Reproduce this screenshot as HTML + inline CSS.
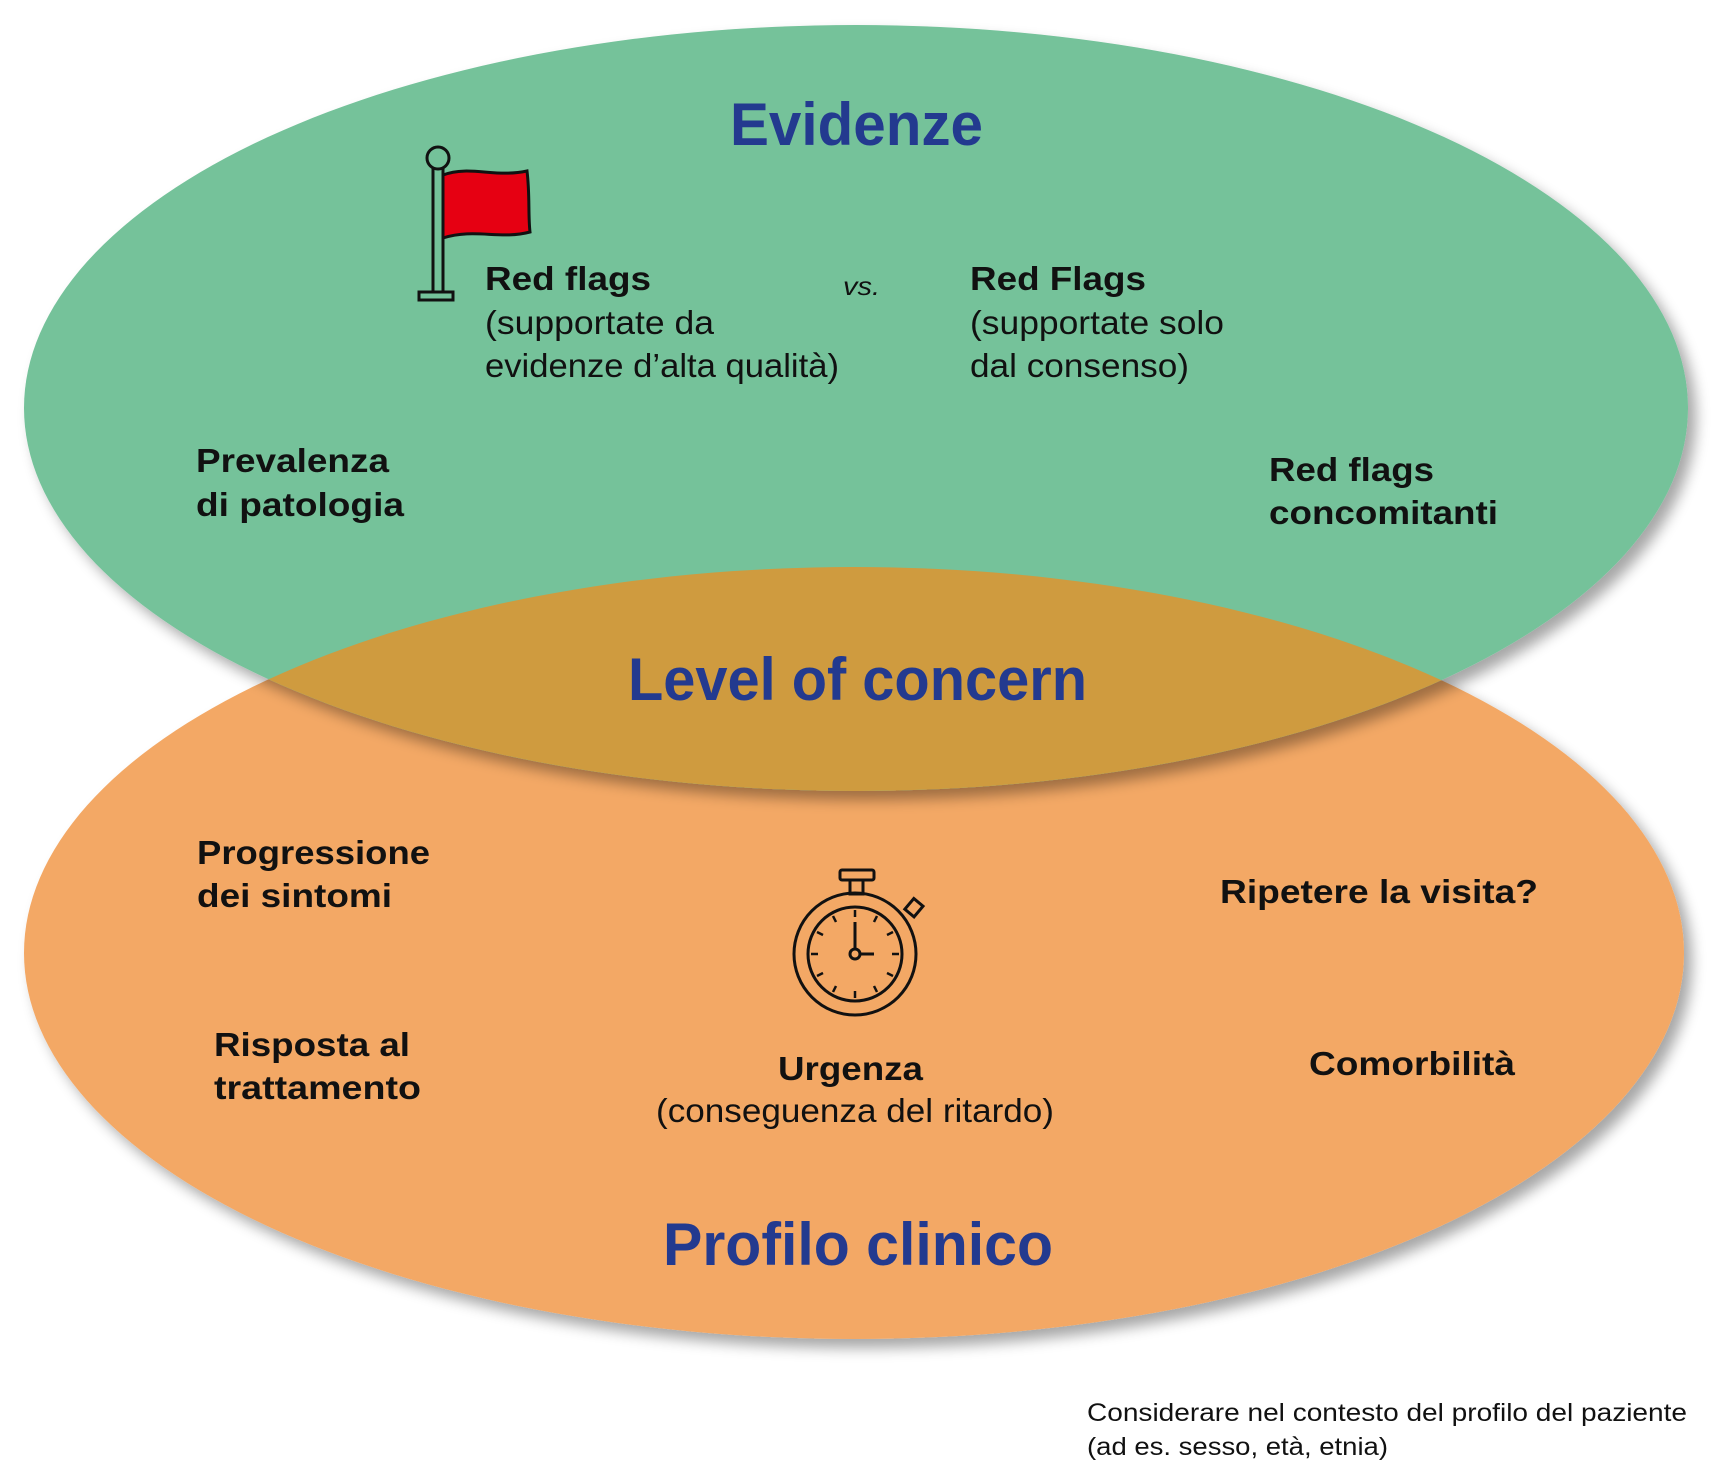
<!DOCTYPE html>
<html><head><meta charset="utf-8"><style>html,body{margin:0;padding:0;background:#fff}svg{display:block}</style></head>
<body>
<svg width="1735" height="1465" viewBox="0 0 1735 1465" xmlns="http://www.w3.org/2000/svg" font-family="'Liberation Sans', sans-serif">
<defs>
<filter id="sh" x="-10%" y="-10%" width="120%" height="130%">
<feGaussianBlur in="SourceAlpha" stdDeviation="7"/>
<feOffset dx="8" dy="9" result="o"/>
<feComponentTransfer><feFuncA type="linear" slope="0.35"/></feComponentTransfer>
<feMerge><feMergeNode/><feMergeNode in="SourceGraphic"/></feMerge>
</filter>
<clipPath id="cg"><ellipse cx="856" cy="408" rx="832" ry="383"/></clipPath>
</defs>
<ellipse cx="854" cy="953" rx="830" ry="386" fill="#f3a865" filter="url(#sh)"/>
<ellipse cx="856" cy="408" rx="832" ry="383" fill="#74c29a" filter="url(#sh)"/>
<ellipse cx="854" cy="953" rx="830" ry="386" fill="#cf9b3f" clip-path="url(#cg)"/>

<g fill="#233a8f" font-weight="bold">
<text x="730" y="145" font-size="60" textLength="253" lengthAdjust="spacingAndGlyphs">Evidenze</text>
<text x="628" y="700" font-size="60" textLength="459" lengthAdjust="spacingAndGlyphs">Level of concern</text>
<text x="663" y="1265" font-size="60" textLength="390" lengthAdjust="spacingAndGlyphs">Profilo clinico</text>
</g>

<g fill="#111" font-size="33" lengthAdjust="spacingAndGlyphs">
<text x="485" y="290" font-weight="bold" textLength="166" lengthAdjust="spacingAndGlyphs">Red flags</text>
<text x="485" y="334" textLength="229" lengthAdjust="spacingAndGlyphs">(supportate da</text>
<text x="485" y="377" textLength="354" lengthAdjust="spacingAndGlyphs">evidenze d’alta qualità)</text>
<text x="843" y="295" font-size="26" font-style="italic" textLength="37" lengthAdjust="spacingAndGlyphs">vs.</text>
<text x="970" y="290" font-weight="bold" textLength="176" lengthAdjust="spacingAndGlyphs">Red Flags</text>
<text x="970" y="334" textLength="254" lengthAdjust="spacingAndGlyphs">(supportate solo</text>
<text x="970" y="377" textLength="219" lengthAdjust="spacingAndGlyphs">dal consenso)</text>
<g font-weight="bold">
<text x="196" y="472" textLength="193" lengthAdjust="spacingAndGlyphs">Prevalenza</text>
<text x="196" y="516" textLength="208" lengthAdjust="spacingAndGlyphs">di patologia</text>
<text x="1269" y="481" textLength="165" lengthAdjust="spacingAndGlyphs">Red flags</text>
<text x="1269" y="524" textLength="229" lengthAdjust="spacingAndGlyphs">concomitanti</text>
<text x="197" y="864" textLength="233" lengthAdjust="spacingAndGlyphs">Progressione</text>
<text x="197" y="907" textLength="195" lengthAdjust="spacingAndGlyphs">dei sintomi</text>
<text x="1220" y="903" textLength="318" lengthAdjust="spacingAndGlyphs">Ripetere la visita?</text>
<text x="214" y="1056" textLength="196" lengthAdjust="spacingAndGlyphs">Risposta al</text>
<text x="214" y="1099" textLength="207" lengthAdjust="spacingAndGlyphs">trattamento</text>
<text x="1309" y="1075" textLength="206" lengthAdjust="spacingAndGlyphs">Comorbilità</text>
<text x="778" y="1080" textLength="145" lengthAdjust="spacingAndGlyphs">Urgenza</text>
</g>
<text x="656" y="1122" textLength="398" lengthAdjust="spacingAndGlyphs">(conseguenza del ritardo)</text>
<text x="1087" y="1421" font-size="25" textLength="600" lengthAdjust="spacingAndGlyphs">Considerare nel contesto del profilo del paziente</text>
<text x="1087" y="1455" font-size="25" textLength="301" lengthAdjust="spacingAndGlyphs">(ad es. sesso, età, etnia)</text>
</g>

<!-- flag -->
<g stroke="#111" stroke-width="3" fill="none">
<path d="M443,175 C470,165 495,178 527,171 C530,195 528,215 530,232 C500,240 475,228 443,238 Z" fill="#e60012"/>
<rect x="433" y="168" width="10" height="124" fill="#74c29a"/>
<circle cx="438" cy="158" r="11" fill="#74c29a"/>
<rect x="419" y="292" width="34" height="8" fill="#74c29a"/>
</g>

<!-- stopwatch -->
<g stroke="#111" stroke-width="3" fill="none">
<rect x="840" y="870" width="34" height="10" rx="2"/>
<rect x="850" y="880" width="13" height="14"/>
<g transform="rotate(40 912 910)"><rect x="906" y="900" width="12" height="14"/></g>
<circle cx="855" cy="954" r="61"/>
<circle cx="855" cy="954" r="47"/>
<circle cx="855" cy="954" r="5"/>
<line x1="855" y1="949" x2="855" y2="922"/>
<line x1="860" y1="954" x2="874" y2="954"/>
<g stroke-width="2.5">
<line x1="855" y1="910" x2="855" y2="917"/>
<line x1="855" y1="991" x2="855" y2="998"/>
<line x1="811" y1="954" x2="818" y2="954"/>
<line x1="892" y1="954" x2="899" y2="954"/>
<line x1="877" y1="916" x2="874" y2="922"/>
<line x1="893" y1="932" x2="887" y2="935"/>
<line x1="893" y1="976" x2="887" y2="973"/>
<line x1="877" y1="992" x2="874" y2="986"/>
<line x1="833" y1="916" x2="836" y2="922"/>
<line x1="817" y1="932" x2="823" y2="935"/>
<line x1="817" y1="976" x2="823" y2="973"/>
<line x1="833" y1="992" x2="836" y2="986"/>
</g>
</g>
</svg>
</body></html>
